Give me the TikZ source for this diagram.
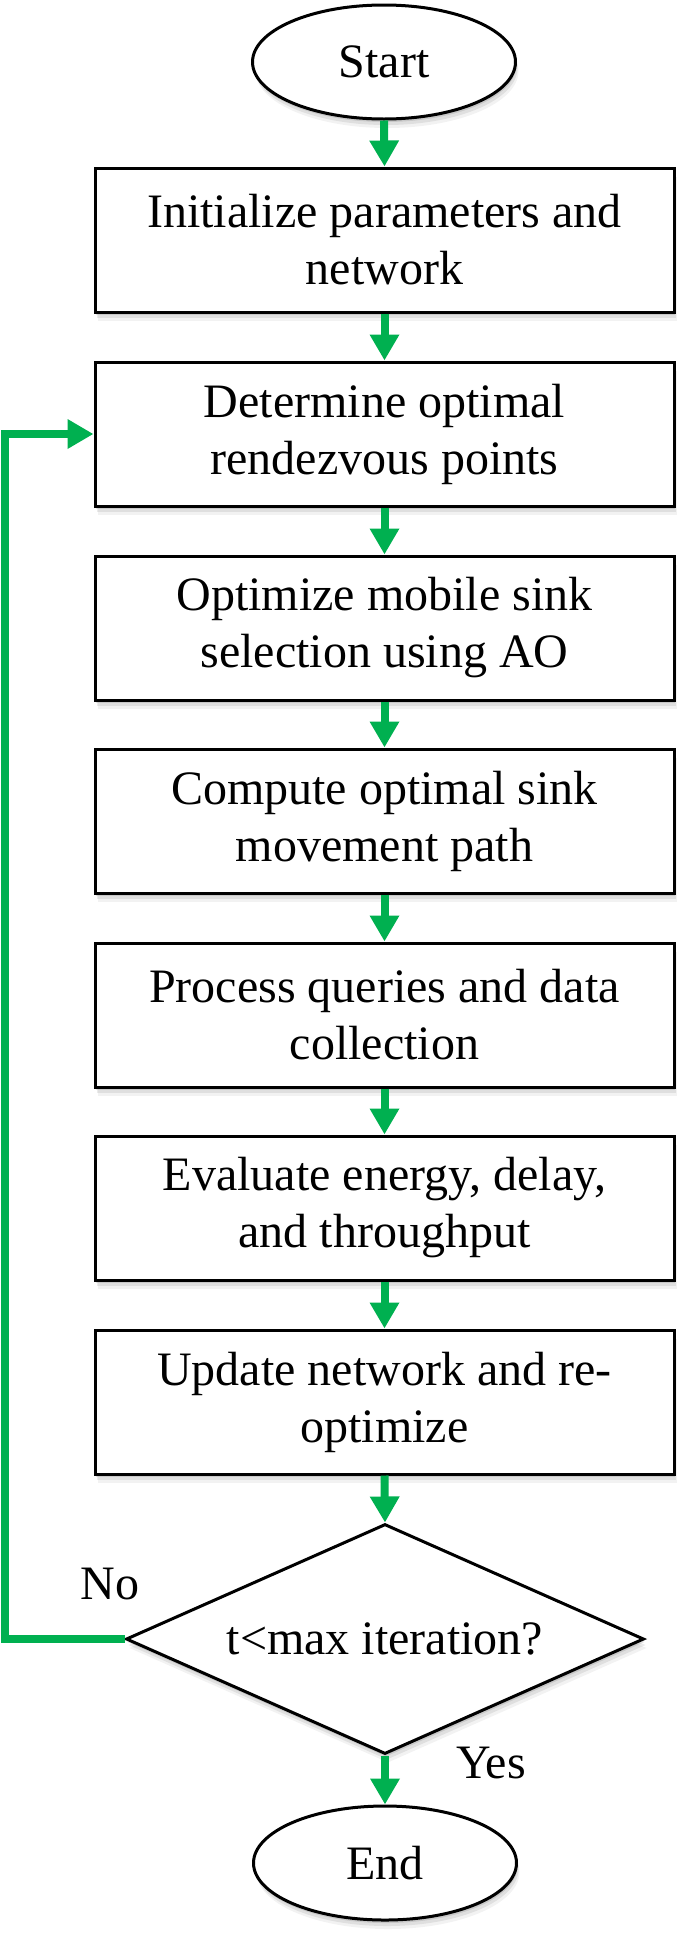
\documentclass[tikz,border=0pt]{standalone}
\usepackage{fontspec}
\setmainfont{Liberation Serif}
\usetikzlibrary{arrows.meta,shapes.geometric,shadows}
\definecolor{flowgreen}{RGB}{0,176,80}
\begin{document}
\begin{tikzpicture}[x=1pt,y=-1pt,
  txt/.style={font=\fontsize{48}{57}\selectfont},
  softshadow/.style={
    general shadow={fill=black, opacity=.10, shadow xshift=1pt, shadow yshift=-3pt},
    general shadow={fill=black, opacity=.08, shadow xshift=2pt, shadow yshift=-6pt},
    general shadow={fill=black, opacity=.05, shadow xshift=3pt, shadow yshift=-9pt}},
  procbox/.style={txt, draw=black, line width=3pt, fill=white, minimum width=579pt,
    minimum height=144pt, inner sep=0pt, align=center, softshadow},
  termnode/.style={txt, ellipse, draw=black, line width=3pt, fill=white,
    minimum width=263pt, minimum height=114pt, inner sep=0pt, softshadow},
  decnode/.style={txt, diamond, draw=black, line width=3pt, fill=white, aspect=2.25,
    minimum width=518pt, minimum height=230pt, inner sep=0pt, softshadow},
  lbl/.style={txt, inner sep=0pt},
  flow/.style={draw=flowgreen, line width=8pt, -{Triangle[width=28pt,length=26pt]}}
]
\fill[white] (0,0) rectangle (685,1941);
\useasboundingbox (0,0) rectangle (685,1941);

\node[termnode] (start) at (384,62) {Start};
\node[procbox] (b1) at (384.5,240) {Initialize parameters and\\network};
\node[procbox] (b2) at (384.5,434) {Determine optimal\\rendezvous points};
\node[procbox] (b3) at (384.5,628) {Optimize mobile sink\\selection using AO};
\node[procbox] (b4) at (384.5,821) {Compute optimal sink\\movement path};
\node[procbox] (b5) at (384.5,1015) {Process queries and data\\collection};
\node[procbox] (b6) at (384.5,1208) {Evaluate energy, delay,\\and throughput};
\node[procbox] (b7) at (384.5,1402) {Update network and re-\\optimize};
\node[decnode] (dec) at (385,1639) {t<max iteration?};
\node[termnode] (end) at (385,1863) {End};

\node[lbl] (no) at (110,1584) {No};
\node[lbl] (yes) at (491,1763) {Yes};

\draw[flow] (start.south) -- (b1.north);
\draw[flow] (b1.south) -- (b2.north);
\draw[flow] (b2.south) -- (b3.north);
\draw[flow] (b3.south) -- (b4.north);
\draw[flow] (b4.south) -- (b5.north);
\draw[flow] (b5.south) -- (b6.north);
\draw[flow] (b6.south) -- (b7.north);
\draw[flow] (b7.south) -- (dec.north);
\draw[flow] (dec.south) -- (end.north);
\draw[flow] (dec.west) -- ++(-120,0) |- (b2.west);
\end{tikzpicture}
\end{document}
